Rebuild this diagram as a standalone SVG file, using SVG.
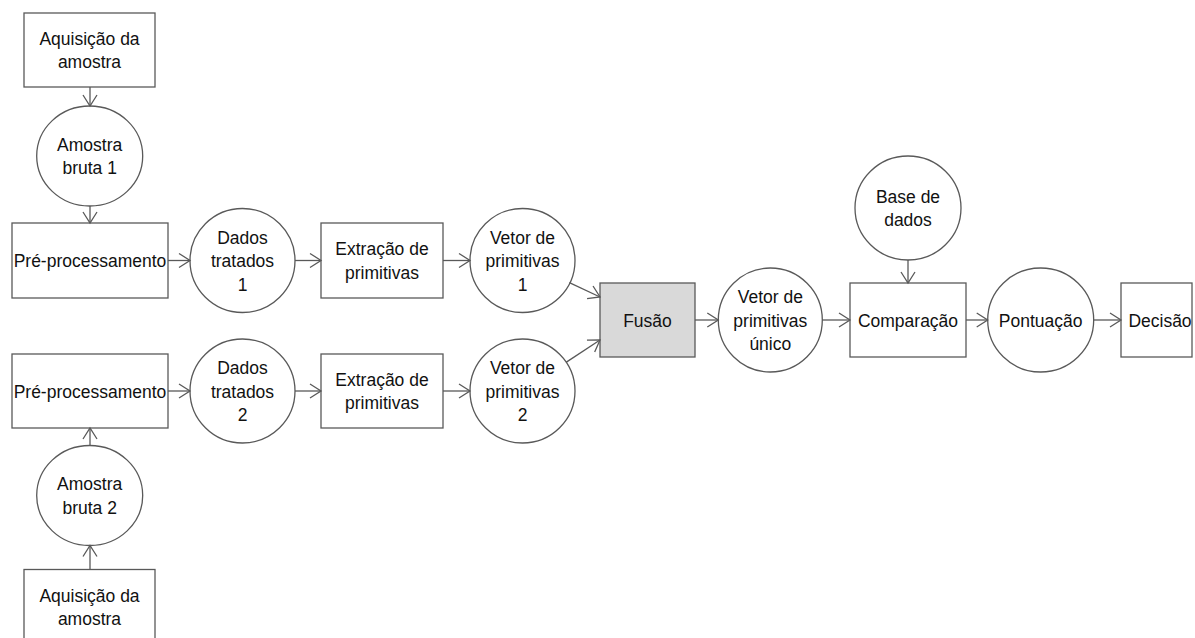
<svg xmlns="http://www.w3.org/2000/svg" width="1195" height="638" viewBox="0 0 1195 638">
  <style>
    .box { fill: #ffffff; stroke: #595959; stroke-width: 1.3; }
    .fus { fill: #d9d9d9; stroke: #595959; stroke-width: 1.3; }
    .lbl { font-family: "Liberation Sans", Arial, sans-serif; font-size: 17.5px; fill: #111111; text-anchor: middle; }
    .edge { stroke: #595959; stroke-width: 1.3; fill: none; marker-end: url(#arr); }
  </style>
  <defs>
    <marker id="arr" markerUnits="userSpaceOnUse" markerWidth="14" markerHeight="16" refX="12" refY="8" orient="auto" overflow="visible">
      <path d="M1,1 L12,8 L1,15" fill="none" stroke="#595959" stroke-width="1.3"/>
    </marker>
  </defs>
  <rect width="1195" height="638" fill="#ffffff"/>

  <!-- upper branch -->
  <g id="aquisicao1">
    <rect class="box" x="24" y="13" width="131" height="74"/>
    <text class="lbl" x="89.5" y="44.5">Aquisição da</text>
    <text class="lbl" x="89.5" y="68">amostra</text>
  </g>
  <g id="amostra1">
    <ellipse class="box" cx="89.7" cy="156" rx="53" ry="50"/>
    <text class="lbl" x="89.7" y="150.5">Amostra</text>
    <text class="lbl" x="89.7" y="174">bruta 1</text>
  </g>
  <g id="preproc1">
    <rect class="box" x="12" y="223" width="156" height="75"/>
    <text class="lbl" x="90" y="267">Pré-processamento</text>
  </g>
  <g id="dados1">
    <ellipse class="box" cx="242.5" cy="260.5" rx="52.5" ry="52"/>
    <text class="lbl" x="242.5" y="243.5">Dados</text>
    <text class="lbl" x="242.5" y="267">tratados</text>
    <text class="lbl" x="242.5" y="290.5">1</text>
  </g>
  <g id="extracao1">
    <rect class="box" x="321" y="223" width="122" height="75"/>
    <text class="lbl" x="382" y="255">Extração de</text>
    <text class="lbl" x="382" y="278.5">primitivas</text>
  </g>
  <g id="vetor1">
    <ellipse class="box" cx="522.5" cy="260.5" rx="52.5" ry="52"/>
    <text class="lbl" x="522.5" y="243.5">Vetor de</text>
    <text class="lbl" x="522.5" y="267">primitivas</text>
    <text class="lbl" x="522.5" y="290.5">1</text>
  </g>

  <!-- lower branch -->
  <g id="preproc2">
    <rect class="box" x="12" y="354" width="156" height="74"/>
    <text class="lbl" x="90" y="397.5">Pré-processamento</text>
  </g>
  <g id="dados2">
    <ellipse class="box" cx="242.5" cy="391" rx="52.5" ry="52"/>
    <text class="lbl" x="242.5" y="374">Dados</text>
    <text class="lbl" x="242.5" y="397.5">tratados</text>
    <text class="lbl" x="242.5" y="421">2</text>
  </g>
  <g id="extracao2">
    <rect class="box" x="321" y="354" width="122" height="74"/>
    <text class="lbl" x="382" y="385.5">Extração de</text>
    <text class="lbl" x="382" y="409">primitivas</text>
  </g>
  <g id="vetor2">
    <ellipse class="box" cx="522.5" cy="391" rx="52.5" ry="52"/>
    <text class="lbl" x="522.5" y="374">Vetor de</text>
    <text class="lbl" x="522.5" y="397.5">primitivas</text>
    <text class="lbl" x="522.5" y="421">2</text>
  </g>
  <g id="amostra2">
    <ellipse class="box" cx="89.7" cy="495.5" rx="53" ry="50"/>
    <text class="lbl" x="89.7" y="490">Amostra</text>
    <text class="lbl" x="89.7" y="513.5">bruta 2</text>
  </g>
  <g id="aquisicao2">
    <rect class="box" x="24" y="569.5" width="131" height="74"/>
    <text class="lbl" x="89.5" y="601.5">Aquisição da</text>
    <text class="lbl" x="89.5" y="625">amostra</text>
  </g>

  <!-- fusion and matching -->
  <g id="fusao">
    <rect class="fus" x="600" y="283" width="95" height="74"/>
    <text class="lbl" x="647.5" y="326.5">Fusão</text>
  </g>
  <g id="vetorUnico">
    <ellipse class="box" cx="770.3" cy="320" rx="52" ry="52"/>
    <text class="lbl" x="770.3" y="303">Vetor de</text>
    <text class="lbl" x="770.3" y="326.5">primitivas</text>
    <text class="lbl" x="770.3" y="350">único</text>
  </g>
  <g id="baseDados">
    <ellipse class="box" cx="908" cy="208" rx="53" ry="52"/>
    <text class="lbl" x="908" y="202.5">Base de</text>
    <text class="lbl" x="908" y="226">dados</text>
  </g>
  <g id="comparacao">
    <rect class="box" x="850" y="283" width="116" height="74"/>
    <text class="lbl" x="908" y="326.5">Comparação</text>
  </g>
  <g id="pontuacao">
    <ellipse class="box" cx="1040.7" cy="320" rx="53" ry="52"/>
    <text class="lbl" x="1040.7" y="326.5">Pontuação</text>
  </g>
  <g id="decisao">
    <rect class="box" x="1121" y="283" width="71" height="74"/>
    <text class="lbl" x="1160" y="326.5">Decisão</text>
  </g>

  <!-- connectors -->
  <g id="connectors">
    <line class="edge" x1="90" y1="87" x2="90" y2="106"/>
    <line class="edge" x1="90" y1="206" x2="90" y2="223"/>
    <line class="edge" x1="168" y1="260.5" x2="190" y2="260.5"/>
    <line class="edge" x1="295" y1="260.5" x2="321" y2="260.5"/>
    <line class="edge" x1="443" y1="260.5" x2="470" y2="260.5"/>
    <line class="edge" x1="569.4" y1="282.6" x2="600" y2="297"/>
    <line class="edge" x1="90" y1="569.5" x2="90" y2="545.5"/>
    <line class="edge" x1="90" y1="445.5" x2="90" y2="428"/>
    <line class="edge" x1="168" y1="391" x2="190" y2="391"/>
    <line class="edge" x1="295" y1="391" x2="321" y2="391"/>
    <line class="edge" x1="443" y1="391" x2="470" y2="391"/>
    <line class="edge" x1="566" y1="362.4" x2="600" y2="340"/>
    <line class="edge" x1="695" y1="320" x2="718.3" y2="320"/>
    <line class="edge" x1="822.3" y1="320" x2="850" y2="320"/>
    <line class="edge" x1="908" y1="260" x2="908" y2="283"/>
    <line class="edge" x1="966" y1="320" x2="987.7" y2="320"/>
    <line class="edge" x1="1093.7" y1="320" x2="1121" y2="320"/>
  </g>
</svg>
